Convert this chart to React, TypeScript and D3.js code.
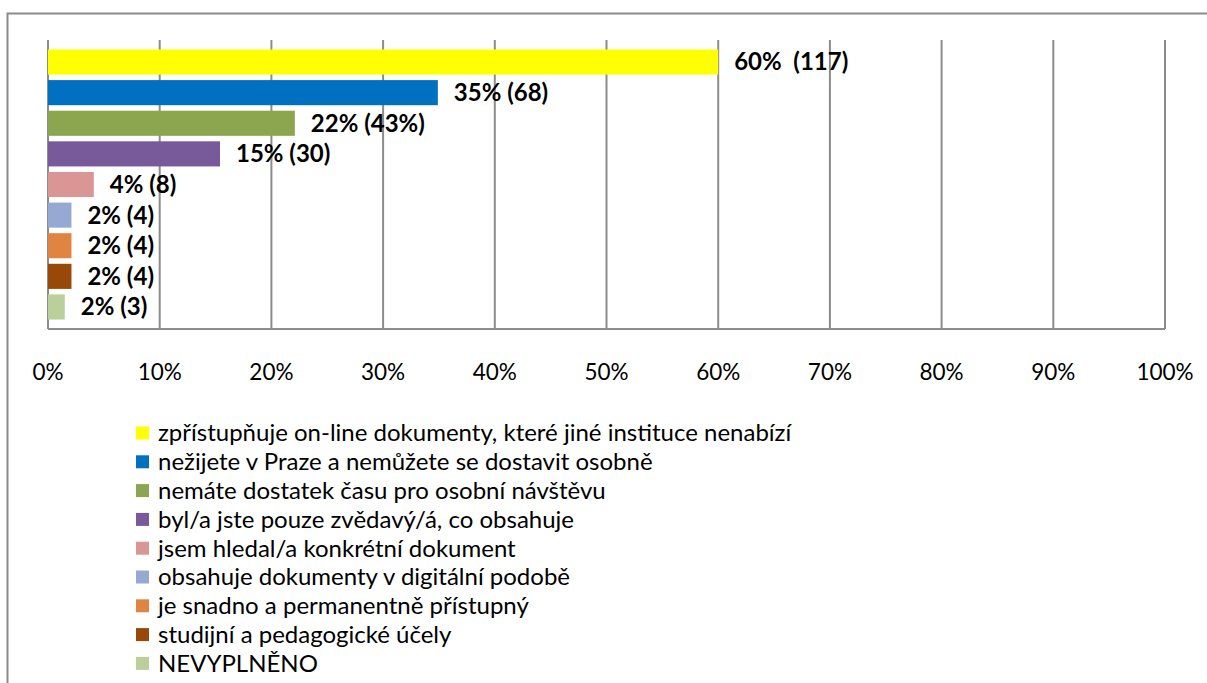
import React, { useEffect, useRef } from "react";
import * as d3 from "d3";

const categories = [
  "zpřístupňuje on-line dokumenty, které jiné instituce nenabízí",
  "nežijete v Praze a nemůžete se dostavit osobně",
  "nemáte dostatek času pro osobní návštěvu",
  "byl/a jste pouze zvědavý/á, co obsahuje",
  "jsem hledal/a konkrétní dokument",
  "obsahuje dokumenty v digitální podobě",
  "je snadno a permanentně přístupný",
  "studijní a pedagogické účely",
  "NEVYPLNĚNO",
];
const percents = [60, 34.9, 22.1, 15.4, 4.1, 2.1, 2.1, 2.1, 1.5];
const valueLabels = ["60%  (117)", "35% (68)", "22% (43%)", "15% (30)", "4% (8)", "2% (4)", "2% (4)", "2% (4)", "2% (3)"];
const colors = ["#FFFF00", "#0070C0", "#8BA64E", "#78599A", "#DA9694", "#95AAD2", "#DF8541", "#984807", "#BACF9A"];
const ticks = [0, 10, 20, 30, 40, 50, 60, 70, 80, 90, 100];

const W = 1207;
const H = 683;
const FONT = "Lato, Carlito, Calibri, sans-serif";

const App = () => {
  const svgRef = useRef<SVGSVGElement>(null);

  useEffect(() => {
    const svg = d3.select(svgRef.current);
    svg.selectAll("*").remove();

    const x = d3.scaleLinear().domain([0, 100]).range([48, 1165]);
    const y = d3
      .scaleBand()
      .domain(categories)
      .range([40, 329])
      .paddingInner(0.18)
      .paddingOuter(0.31);

    // outer frame (left + top only)
    svg
      .append("path")
      .attr("d", `M7.5,${H} V13.5 H${W}`)
      .attr("fill", "none")
      .attr("stroke", "#8a8a8a")
      .attr("stroke-width", 2);

    // gridlines
    svg
      .append("g")
      .selectAll("line")
      .data(ticks)
      .join("line")
      .attr("x1", (d) => x(d))
      .attr("x2", (d) => x(d))
      .attr("y1", 40)
      .attr("y2", 329)
      .attr("stroke", "#8c8c8c")
      .attr("stroke-width", 2);

    svg
      .append("line")
      .attr("x1", x(0))
      .attr("x2", x(100))
      .attr("y1", 329)
      .attr("y2", 329)
      .attr("stroke", "#8c8c8c")
      .attr("stroke-width", 2);

    // tick labels
    svg
      .append("g")
      .selectAll("text")
      .data(ticks)
      .join("text")
      .attr("x", (d) => x(d))
      .attr("y", 372)
      .attr("dy", "0.35em")
      .attr("text-anchor", "middle")
      .style("font-family", FONT)
      .style("font-size", "22.5px")
      .attr("fill", "#000")
      .text((d) => `${d}%`);

    // bars
    svg
      .append("g")
      .selectAll("rect")
      .data(percents)
      .join("rect")
      .attr("x", x(0))
      .attr("y", (d, i) => y(categories[i]) as number)
      .attr("width", (d) => x(d) - x(0))
      .attr("height", y.bandwidth())
      .attr("fill", (d, i) => colors[i]);

    // value labels
    svg
      .append("g")
      .selectAll("text")
      .data(percents)
      .join("text")
      .attr("x", (d) => x(d) + 16)
      .attr("y", (d, i) => (y(categories[i]) as number) + y.bandwidth() / 2)
      .attr("dy", "0.35em")
      .style("font-family", FONT)
      .style("font-size", "24px")
      .style("font-weight", "bold")
      .style("white-space", "pre")
      .attr("fill", "#000")
      .text((d, i) => valueLabels[i]);

    // legend
    const legend = svg
      .append("g")
      .selectAll("g")
      .data(categories)
      .join("g")
      .attr("transform", (d, i) => `translate(136, ${433 + i * 28.8})`);

    legend
      .append("rect")
      .attr("x", 0)
      .attr("y", -6.5)
      .attr("width", 13)
      .attr("height", 13)
      .attr("fill", (d, i) => colors[i]);

    legend
      .append("text")
      .attr("x", 22)
      .attr("y", 0)
      .attr("dy", "0.35em")
      .style("font-family", FONT)
      .style("font-size", "24px")
      .attr("fill", "#000")
      .text((d) => d);
  }, []);

  return (
    <svg
      ref={svgRef}
      width={W}
      height={H}
      style={{ position: "absolute", left: 0, top: 0, background: "#fff" }}
    />
  );
};

export default App;
